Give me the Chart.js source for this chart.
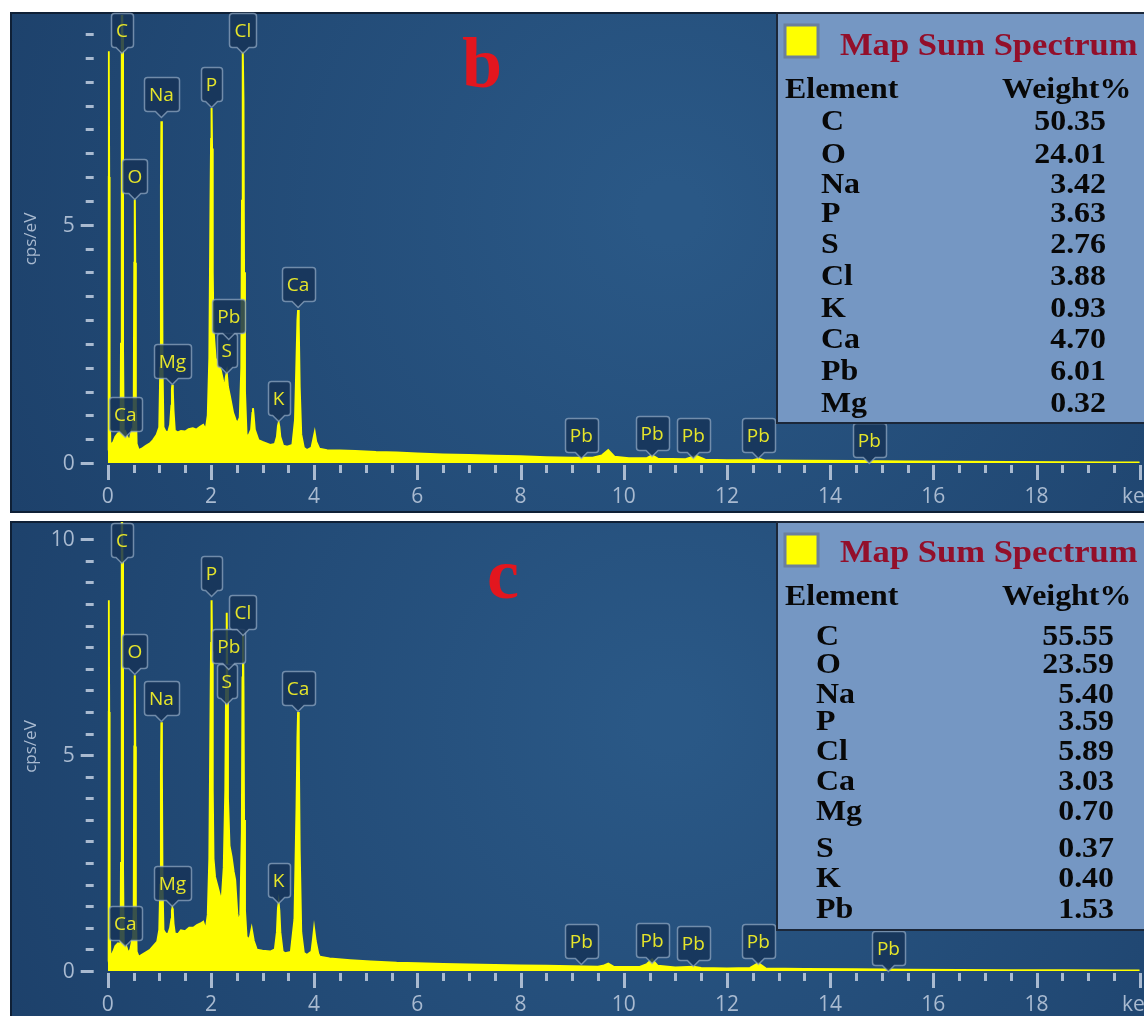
<!DOCTYPE html>
<html>
<head>
<meta charset="utf-8">
<title>Map Sum Spectrum</title>
<script src="https://cdn.jsdelivr.net/npm/chart.js@4.4.1/dist/chart.umd.min.js"></script>
<style>
  html, body { margin: 0; padding: 0; background: #fff; width: 1144px; height: 1016px; overflow: hidden; }
  canvas { position: absolute; left: 10px; }
  #spectrumB { top: 12px; }
  #spectrumC { top: 521px; }
</style>
</head>
<body>
<canvas id="spectrumB" width="1200" height="501"></canvas>
<canvas id="spectrumC" width="1200" height="500"></canvas>
<script>
// Spectrum b: [energy keV, counts cps/eV]
const spectrumB = [
  [0.00, 0.27], [0.005, 1.5], [0.013, 6.0], [0.02, 8.64], [0.028, 6.0], [0.036, 1.5], [0.05, 0.42],
  [0.08, 0.40], [0.11, 0.44], [0.15, 0.55], [0.20, 0.62], [0.25, 0.64], [0.258, 2.5], [0.27, 9.0],
  [0.277, 10.5], [0.285, 9.0], [0.296, 2.5], [0.31, 0.62], [0.34, 0.66], [0.39, 0.52], [0.43, 0.49],
  [0.46, 0.66], [0.49, 0.55], [0.505, 1.2], [0.516, 4.2], [0.525, 5.53], [0.534, 4.2], [0.545, 1.2],
  [0.56, 0.40], [0.60, 0.27], [0.66, 0.30], [0.74, 0.36], [0.82, 0.41], [0.88, 0.48], [0.95, 0.59],
  [1.00, 0.75], [1.02, 2.0], [1.032, 5.8], [1.041, 7.17], [1.05, 5.8], [1.062, 2.0], [1.08, 0.75],
  [1.12, 0.66], [1.17, 0.64], [1.21, 0.80], [1.235, 1.2], [1.245, 1.55], [1.253, 1.64], [1.262, 1.5],
  [1.275, 1.1], [1.30, 0.68], [1.36, 0.64], [1.42, 0.67], [1.50, 0.66], [1.57, 0.71], [1.65, 0.73],
  [1.72, 0.70], [1.79, 0.76], [1.85, 0.80], [1.90, 0.70], [1.94, 1.0], [1.97, 2.2], [1.993, 5.5],
  [2.004, 6.8], [2.013, 7.45], [2.022, 6.6], [2.035, 4.0], [2.05, 2.8], [2.09, 2.2], [2.14, 2.05],
  [2.19, 1.95], [2.24, 1.7], [2.27, 1.6], [2.29, 1.8], [2.307, 1.89], [2.33, 1.6], [2.37, 1.39],
  [2.43, 1.05], [2.48, 0.90], [2.51, 0.83], [2.56, 0.95], [2.59, 2.0], [2.603, 5.5], [2.613, 7.8],
  [2.622, 8.64], [2.631, 7.6], [2.642, 4.0], [2.66, 1.5], [2.69, 0.60], [2.72, 0.55], [2.78, 0.70],
  [2.805, 1.05], [2.815, 1.15], [2.828, 1.0], [2.85, 0.70], [2.92, 0.48], [3.00, 0.44], [3.15, 0.38],
  [3.24, 0.40], [3.28, 0.55], [3.30, 0.78], [3.313, 0.84], [3.326, 0.76], [3.345, 0.55], [3.40, 0.36],
  [3.48, 0.34], [3.58, 0.38], [3.63, 0.9], [3.66, 2.2], [3.678, 3.0], [3.69, 3.21], [3.702, 2.9],
  [3.72, 1.6], [3.75, 0.6], [3.80, 0.32], [3.86, 0.27], [3.95, 0.32], [3.985, 0.50], [4.012, 0.64],
  [4.04, 0.45], [4.10, 0.30], [4.25, 0.27], [4.5, 0.26], [4.8, 0.25], [5.2, 0.23], [5.6, 0.22],
  [6.0, 0.20], [6.5, 0.18], [7.0, 0.17], [7.5, 0.15], [8.0, 0.14], [8.5, 0.12], [9.0, 0.11],
  [9.4, 0.11], [9.58, 0.16], [9.70, 0.27], [9.82, 0.13], [10.1, 0.10], [10.45, 0.10], [10.55, 0.16],
  [10.66, 0.09], [11.2, 0.08], [11.4, 0.15], [11.58, 0.07], [12.0, 0.06], [12.5, 0.06], [12.62, 0.09],
  [12.75, 0.05], [13.5, 0.045], [14.5, 0.04], [15.5, 0.03], [16.5, 0.025], [17.5, 0.02],
  [18.5, 0.015], [19.5, 0.012], [20.0, 0.01]
];

// Spectrum c: [energy keV, counts cps/eV]
const spectrumC = [
  [0.00, 0.22], [0.005, 1.5], [0.013, 6.0], [0.02, 8.59], [0.028, 6.0], [0.036, 1.5], [0.05, 0.40],
  [0.08, 0.38], [0.11, 0.45], [0.15, 0.58], [0.20, 0.64], [0.25, 0.62], [0.258, 2.5], [0.27, 9.5],
  [0.277, 11.5], [0.285, 9.5], [0.296, 2.5], [0.31, 0.60], [0.35, 0.60], [0.40, 0.41], [0.44, 0.50],
  [0.47, 0.68], [0.49, 0.60], [0.505, 1.5], [0.516, 5.2], [0.525, 6.85], [0.534, 5.2], [0.545, 1.5],
  [0.56, 0.45], [0.60, 0.33], [0.67, 0.38], [0.75, 0.44], [0.82, 0.49], [0.90, 0.60], [0.96, 0.68],
  [1.00, 0.95], [1.02, 2.0], [1.032, 4.6], [1.041, 5.76], [1.05, 4.6], [1.062, 2.0], [1.08, 0.95],
  [1.12, 0.87], [1.17, 0.85], [1.21, 1.0], [1.235, 1.2], [1.245, 1.4], [1.253, 1.45], [1.262, 1.38],
  [1.275, 1.1], [1.30, 0.87], [1.36, 0.85], [1.42, 0.94], [1.50, 0.92], [1.58, 1.0], [1.66, 1.0],
  [1.73, 1.06], [1.80, 1.10], [1.85, 1.14], [1.90, 0.95], [1.94, 1.3], [1.97, 2.6], [1.993, 6.0],
  [2.004, 7.6], [2.013, 8.59], [2.022, 7.4], [2.035, 4.2], [2.05, 2.6], [2.08, 2.18], [2.13, 1.95],
  [2.18, 1.72], [2.21, 1.64], [2.25, 2.4], [2.28, 4.2], [2.296, 6.8], [2.307, 8.3], [2.318, 6.6],
  [2.33, 4.0], [2.36, 2.9], [2.40, 2.65], [2.44, 2.3], [2.47, 2.11], [2.51, 1.34], [2.54, 1.1],
  [2.57, 1.3], [2.60, 3.2], [2.613, 6.8], [2.622, 7.9], [2.631, 6.6], [2.642, 3.5], [2.66, 1.4],
  [2.69, 0.80], [2.72, 0.72], [2.76, 0.80], [2.79, 0.98], [2.83, 0.70], [2.89, 0.49], [3.00, 0.47],
  [3.15, 0.45], [3.24, 0.50], [3.28, 0.90], [3.30, 1.45], [3.313, 1.57], [3.326, 1.4], [3.345, 0.90],
  [3.39, 0.45], [3.44, 0.41], [3.55, 0.44], [3.62, 1.2], [3.66, 3.8], [3.678, 5.4], [3.69, 6.0],
  [3.702, 5.3], [3.72, 2.8], [3.75, 0.9], [3.80, 0.42], [3.86, 0.37], [3.95, 0.45], [3.98, 0.75],
  [4.00, 0.98], [4.03, 0.70], [4.08, 0.40], [4.11, 0.33], [4.3, 0.29], [4.7, 0.25], [5.1, 0.22],
  [5.6, 0.19], [6.0, 0.18], [6.5, 0.16], [7.0, 0.15], [7.5, 0.14], [8.0, 0.13], [8.5, 0.12],
  [9.0, 0.11], [9.5, 0.10], [9.6, 0.12], [9.70, 0.17], [9.8, 0.10], [10.3, 0.09], [10.45, 0.16],
  [10.55, 0.27], [10.66, 0.12], [11.0, 0.08], [11.35, 0.10], [11.5, 0.07], [12.0, 0.06],
  [12.45, 0.07], [12.61, 0.18], [12.75, 0.06], [13.5, 0.045], [14.5, 0.04], [15.5, 0.03],
  [16.5, 0.025], [17.5, 0.02], [18.5, 0.015], [19.5, 0.012], [20.0, 0.01]
];

// Peak markers: element, line energy (keV), height of the pointer tip (cps/eV)
const markerNamesB = ["C", "O", "Ca", "Na", "Mg", "P", "S", "Pb", "Cl", "K", "Ca", "Pb", "Pb", "Pb", "Pb", "Pb"];
const markerKeVB = [0.277, 0.525, 0.341, 1.041, 1.253, 2.013, 2.307, 2.346, 2.622, 3.313, 3.69, 9.18, 10.55, 11.35, 12.61, 14.76];
const markerTipB = [8.6, 5.53, 0.55, 7.25, 1.66, 7.46, 1.89, 2.6, 8.6, 0.88, 3.28, 0.1, 0.15, 0.1, 0.1, 0.0];

const markerNamesC = ["C", "O", "Ca", "Na", "Mg", "P", "S", "Pb", "Cl", "K", "Ca", "Pb", "Pb", "Pb", "Pb", "Pb"];
const markerKeVC = [0.277, 0.525, 0.341, 1.041, 1.253, 2.013, 2.307, 2.346, 2.622, 3.313, 3.69, 9.18, 10.55, 11.35, 12.61, 15.13];
const markerTipC = [9.45, 6.88, 0.58, 5.79, 1.5, 8.69, 6.18, 7.0, 7.78, 1.58, 6.02, 0.16, 0.19, 0.12, 0.16, 0.01];

// Quantification tables
const tableElementsB = ["C", "O", "Na", "P", "S", "Cl", "K", "Ca", "Pb", "Mg"];
const tableWeightsB = ["50.35", "24.01", "3.42", "3.63", "2.76", "3.88", "0.93", "4.70", "6.01", "0.32"];
const tableElementsC = ["C", "O", "Na", "P", "Cl", "Ca", "Mg", "S", "K", "Pb"];
const tableWeightsC = ["55.55", "23.59", "5.40", "3.59", "5.89", "3.03", "0.70", "0.37", "0.40", "1.53"];

// Axis ticks
const xTickValues = [0, 2, 4, 6, 8, 10, 12, 14, 16, 18, 20];
const xTickLabels = ["0", "2", "4", "6", "8", "10", "12", "14", "16", "18", "keV"];
const yTickValuesB = [0, 5];
const yTickLabelsB = ["0", "5"];
const yTickValuesC = [0, 5, 10];
const yTickLabelsC = ["0", "5", "10"];

const AXIS_COLOR = "#a9bad0";
const MARKER_TEXT = "#e6e52a";
const CANVAS_LEFT = 10;

function stretchText(ctx, text, x, y, sx, align) {
  ctx.save();
  ctx.translate(x, y);
  ctx.scale(sx, 1);
  ctx.textAlign = align;
  ctx.fillText(text, 0, 0);
  ctx.restore();
}

function drawAxes(chart, cfg) {
  const { ctx, chartArea } = chart;
  const xs = chart.scales.x, ys = chart.scales.y;
  const base = ys.getPixelForValue(0);
  ctx.save();
  ctx.strokeStyle = AXIS_COLOR;
  ctx.fillStyle = AXIS_COLOR;
  ctx.lineWidth = 3;

  // energy ticks every 0.5 keV, longer at the labelled ones
  for (let k = 0; k <= 40; k++) {
    const px = Math.round(xs.getPixelForValue(k * 0.5)) + 0.5;
    const major = k % 4 === 0;
    ctx.beginPath();
    ctx.moveTo(px, base + 2);
    ctx.lineTo(px, base + (major ? 17 : 10));
    ctx.stroke();
  }
  ctx.font = '21px "Open Sans"';
  ctx.textAlign = "center";
  ctx.textBaseline = "middle";
  xTickValues.forEach((v, i) => {
    ctx.fillText(xTickLabels[i], xs.getPixelForValue(v), base + 34);
  });

  // count ticks every 0.5 cps/eV
  const left = chartArea.left;
  for (let v = 0; v <= ys.max + 1e-6; v += 0.5) {
    const py = Math.round(ys.getPixelForValue(v)) + 0.5;
    const major = Math.abs(v % 5) < 1e-6;
    ctx.beginPath();
    ctx.moveTo(left - (major ? 27 : 22), py);
    ctx.lineTo(left - 14, py);
    ctx.stroke();
  }
  ctx.textAlign = "right";
  cfg.yTickValues.forEach((v, i) => {
    ctx.fillText(cfg.yTickLabels[i], left - 33, ys.getPixelForValue(v) + 1);
  });

  // axis title
  ctx.font = '17px "Open Sans"';
  ctx.textAlign = "center";
  ctx.translate(21, (chartArea.top + chartArea.bottom) / 2);
  ctx.rotate(-Math.PI / 2);
  ctx.fillText("cps/eV", 0, 0);
  ctx.restore();
}

function drawMarker(ctx, x, tip, text) {
  ctx.font = '19px "Open Sans"';
  const w = Math.round(ctx.measureText(text).width + 10);
  const h = 34, p = 6, r = 3;
  const x0 = Math.round(x - w / 2) + 0.5, x1 = x0 + w;
  const y1 = Math.round(tip - p) + 0.5, y0 = y1 - h;
  ctx.beginPath();
  ctx.moveTo(x0 + r, y0);
  ctx.lineTo(x1 - r, y0);
  ctx.arcTo(x1, y0, x1, y0 + r, r);
  ctx.lineTo(x1, y1 - r);
  ctx.arcTo(x1, y1, x1 - r, y1, r);
  ctx.lineTo(x + p, y1);
  ctx.lineTo(x, y1 + p);
  ctx.lineTo(x - p, y1);
  ctx.lineTo(x0 + r, y1);
  ctx.arcTo(x0, y1, x0, y1 - r, r);
  ctx.lineTo(x0, y0 + r);
  ctx.arcTo(x0, y0, x0 + r, y0, r);
  ctx.closePath();
  ctx.fillStyle = "rgba(22, 52, 88, 0.85)";
  ctx.fill();
  ctx.strokeStyle = "rgba(150, 172, 198, 0.7)";
  ctx.lineWidth = 1.5;
  ctx.stroke();
  ctx.fillStyle = MARKER_TEXT;
  ctx.textAlign = "center";
  ctx.textBaseline = "middle";
  ctx.fillText(text, x, y0 + h / 2 + 1);
}

function drawTable(chart, cfg) {
  const ctx = chart.ctx;
  const t = cfg.table;
  const X = (px) => px - CANVAS_LEFT;
  const Y = (py) => py - cfg.top;
  ctx.save();
  ctx.fillStyle = "#7597c3";
  ctx.fillRect(X(777), Y(t.top), 500, t.bottom - t.top);
  ctx.strokeStyle = "#1b2739";
  ctx.lineWidth = 2;
  ctx.strokeRect(X(777), Y(t.top), 500, t.bottom - t.top);

  // legend swatch
  ctx.fillStyle = "#ffff00";
  ctx.fillRect(X(785), Y(t.top + 12), 33, 32);
  ctx.strokeStyle = "#6b7f9c";
  ctx.lineWidth = 3;
  ctx.strokeRect(X(785), Y(t.top + 12), 33, 32);

  ctx.textBaseline = "alphabetic";
  ctx.fillStyle = "#930f2a";
  ctx.font = 'bold 32px "Liberation Serif"';
  stretchText(ctx, "Map Sum Spectrum", X(840), Y(t.titleY), 1.08, "left");

  ctx.fillStyle = "#080808";
  ctx.font = 'bold 29px "Liberation Serif"';
  stretchText(ctx, "Element", X(785), Y(t.headY), 1.1, "left");
  stretchText(ctx, "Weight%", X(1002), Y(t.headY), 1.1, "left");
  cfg.elements.forEach((el, i) => {
    stretchText(ctx, el, X(t.nameX), Y(t.rowY[i]), 1.1, "left");
    stretchText(ctx, cfg.weights[i], X(t.valueX), Y(t.rowY[i]), 1.1, "right");
  });
  ctx.restore();
}

function panelPlugin(cfg) {
  return {
    id: "edsPanel",
    beforeDraw(chart) {
      const { ctx, width, height } = chart;
      const g = ctx.createRadialGradient(width * 0.55, height * 0.4, 30, width * 0.55, height * 0.4, width * 0.6);
      g.addColorStop(0, "#2a5886");
      g.addColorStop(1, "#1d416b");
      ctx.save();
      ctx.fillStyle = g;
      ctx.fillRect(0, 0, width, height);
      ctx.strokeStyle = "#0f2036";
      ctx.lineWidth = 2;
      ctx.strokeRect(1, 1, width - 2, height - 2);
      ctx.restore();
    },
    afterDatasetsDraw(chart) {
      const { ctx } = chart;
      const xs = chart.scales.x, ys = chart.scales.y;
      drawAxes(chart, cfg);

      ctx.save();
      cfg.markerNames.forEach((name, i) => {
        drawMarker(ctx, xs.getPixelForValue(cfg.markerKeV[i]), ys.getPixelForValue(cfg.markerTip[i]), name);
      });
      ctx.restore();

      // panel letter
      ctx.save();
      ctx.fillStyle = "#e3161e";
      ctx.font = 'bold 72px "Liberation Serif"';
      ctx.textAlign = "center";
      ctx.textBaseline = "alphabetic";
      ctx.fillText(cfg.letter, cfg.letterX - CANVAS_LEFT, cfg.letterY - cfg.top);
      ctx.restore();

      drawTable(chart, cfg);
    }
  };
}

function makeSpectrum(canvasId, spectrum, cfg) {
  const ctx = document.getElementById(canvasId).getContext("2d");
  return new Chart(ctx, {
    type: "line",
    data: {
      datasets: [
        {
          data: spectrum.map(([x, y]) => ({ x, y })),
          borderColor: "#ffff00",
          backgroundColor: "#ffff00",
          borderWidth: 2,
          pointRadius: 0,
          tension: 0,
          fill: "origin",
        },
      ],
    },
    options: {
      responsive: false,
      animation: false,
      events: [],
      layout: { padding: cfg.padding },
      scales: {
        x: { type: "linear", min: 0, max: 20, display: false },
        y: { type: "linear", min: 0, max: cfg.yMax, display: false },
      },
      plugins: {
        legend: { display: false },
        tooltip: { enabled: false },
      },
    },
    plugins: [panelPlugin(cfg)],
  });
}

document.addEventListener("DOMContentLoaded", function () {
  // Spectrum b
  makeSpectrum("spectrumB", spectrumB, {
    top: 12,
    yMax: 9.4,
    padding: { left: 97.7, right: 70.3, top: 3, bottom: 50 },
    yTickValues: yTickValuesB,
    yTickLabels: yTickLabelsB,
    markerNames: markerNamesB,
    markerKeV: markerKeVB,
    markerTip: markerTipB,
    letter: "b",
    letterX: 482,
    letterY: 87,
    elements: tableElementsB,
    weights: tableWeightsB,
    table: {
      top: 13, bottom: 423, titleY: 55, headY: 98, nameX: 821, valueX: 1106,
      rowY: [130, 163, 193, 222, 253, 285, 317, 348, 380, 412],
    },
  });

  // Spectrum c
  makeSpectrum("spectrumC", spectrumC, {
    top: 521,
    yMax: 10.4,
    padding: { left: 97.7, right: 70.3, top: 1, bottom: 50 },
    yTickValues: yTickValuesC,
    yTickLabels: yTickLabelsC,
    markerNames: markerNamesC,
    markerKeV: markerKeVC,
    markerTip: markerTipC,
    letter: "c",
    letterX: 503,
    letterY: 598,
    elements: tableElementsC,
    weights: tableWeightsC,
    table: {
      top: 522, bottom: 930, titleY: 562, headY: 605, nameX: 816, valueX: 1114,
      rowY: [645, 673, 703, 730, 760, 790, 820, 857, 887, 918],
    },
  });
});
</script>
</body>
</html>
